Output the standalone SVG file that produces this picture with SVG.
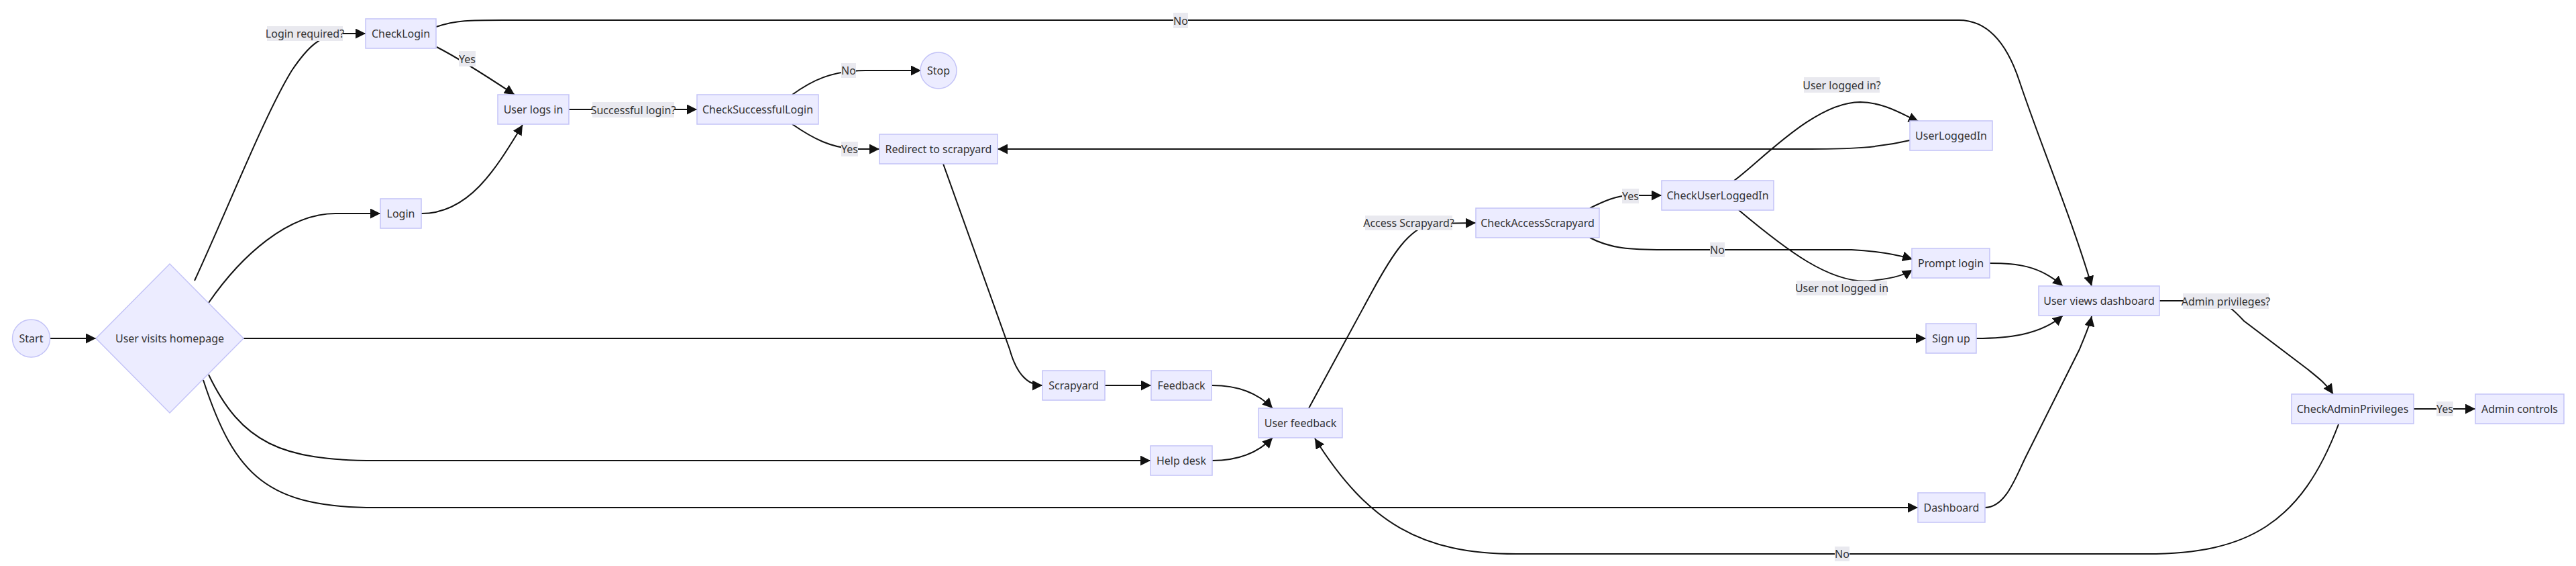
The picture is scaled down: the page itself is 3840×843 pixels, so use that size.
<svg xmlns="http://www.w3.org/2000/svg" width="3840" height="843" viewBox="0 0 3840 843">
<style>
  .node rect, .node polygon, .node circle { fill: #ECECFF; stroke: #c3c3f7; stroke-width: 1.5; }
  .node text, .lbl text { font-family: "Noto Sans", "Open Sans", sans-serif; font-size: 16px; fill: #333; text-anchor: middle; dominant-baseline: central; }
  .edge { fill: none; stroke: #111; stroke-width: 2; }
  .lbl rect { fill: #e9e9ef; }
</style>
<defs>
  <marker id="arr" viewBox="0 0 10 10" refX="10" refY="5" markerUnits="userSpaceOnUse" markerWidth="15" markerHeight="15" orient="auto">
    <path d="M0,0 L10,5 L0,10 z" fill="#111"/>
  </marker>
</defs>
<rect width="3840" height="843" fill="#fff"/>

<g id="connectors">
  <path class="edge" marker-end="url(#arr)" d="M74,504 L143,504"/>
  <path class="edge" marker-end="url(#arr)" d="M290,418 C340,310 395,170 435,105 C460,68 478,52 511,50 L545,50"/>
  <path class="edge" marker-end="url(#arr)" d="M311,451 C360,380 430,318 500,318 L567,318"/>
  <path class="edge" marker-end="url(#arr)" d="M628,318 C700,318 740,250 779,186"/>
  <path class="edge" marker-end="url(#arr)" d="M651,70 Q690,90 767,141"/>
  <path class="edge" marker-end="url(#arr)" d="M650,40 C680,30 700,30 750,30 L2920,30 C2960,30 2990,60 3010,120 C3040,210 3090,330 3118,426"/>
  <path class="edge" marker-end="url(#arr)" d="M848,163 L1039,163"/>
  <path class="edge" marker-end="url(#arr)" d="M1181,141 C1210,120 1240,105 1290,105 L1373,105"/>
  <path class="edge" marker-end="url(#arr)" d="M1181,185 C1210,205 1240,222 1280,222 L1311,222"/>
  <path class="edge" marker-end="url(#arr)" d="M1406,244 L1505,520 Q1520,574 1554,574"/>
  <path class="edge" marker-end="url(#arr)" d="M1647,574 L1716,574"/>
  <path class="edge" marker-end="url(#arr)" d="M1807,574 C1835,574 1870,580 1897,608"/>
  <path class="edge" marker-end="url(#arr)" d="M1807,686 C1835,686 1870,680 1897,652"/>
  <path class="edge" marker-end="url(#arr)" d="M311,558 C360,660 420,686 560,686 L1715,686"/>
  <path class="edge" marker-end="url(#arr)" d="M303,566 C350,710 400,756 560,756 L2859,756"/>
  <path class="edge" marker-end="url(#arr)" d="M363,504 L2871,504"/>
  <path class="edge" marker-end="url(#arr)" d="M1951,608 L2045,435 C2075,380 2100,340 2135,333 L2200,332"/>
  <path class="edge" marker-end="url(#arr)" d="M2370,310 C2390,300 2410,291 2430,291 L2477,291"/>
  <path class="edge" marker-end="url(#arr)" d="M2370,354 C2400,370 2430,372 2480,372 L2760,372 C2800,374 2830,380 2851,386"/>
  <path class="edge" marker-end="url(#arr)" d="M2585,269 C2625,240 2705,152 2773,152 C2810,153 2835,170 2860,181"/>
  <path class="edge" marker-end="url(#arr)" d="M2847,209 C2800,220 2760,222 2700,222 L1487,222"/>
  <path class="edge" marker-end="url(#arr)" d="M2592,313 C2660,370 2730,425 2790,418 C2815,415 2835,412 2851,402"/>
  <path class="edge" marker-end="url(#arr)" d="M2966,392 C3005,392 3040,395 3075,426"/>
  <path class="edge" marker-end="url(#arr)" d="M2946,504 C2990,504 3040,500 3075,470"/>
  <path class="edge" marker-end="url(#arr)" d="M2959,756 C2990,756 3005,710 3020,680 L3100,520 C3108,500 3115,485 3118,471"/>
  <path class="edge" marker-end="url(#arr)" d="M3219,448 L3300,448 C3320,452 3330,462 3345,478 L3440,550 C3455,562 3468,572 3478,587"/>
  <path class="edge" marker-end="url(#arr)" d="M3598,609 L3690,609"/>
  <path class="edge" marker-end="url(#arr)" d="M3486,632 C3430,780 3350,825 3200,825 L2260,825 C2120,825 2040,780 1960,653"/>
</g>

<g id="edge-labels">
  <g class="lbl"><rect x="398" y="39" width="113" height="22"/><text x="454.5" y="50">Login required?</text></g>
  <g class="lbl"><rect x="684" y="76" width="25" height="23"/><text x="696.5" y="87.5">Yes</text></g>
  <g class="lbl"><rect x="1749" y="19" width="22" height="23"/><text x="1760" y="30.5">No</text></g>
  <g class="lbl"><rect x="883" y="152" width="122" height="23"/><text x="944" y="163.5">Successful login?</text></g>
  <g class="lbl"><rect x="1254" y="94" width="22" height="22"/><text x="1265" y="105">No</text></g>
  <g class="lbl"><rect x="1254" y="211" width="25" height="22"/><text x="1266.5" y="222">Yes</text></g>
  <g class="lbl"><rect x="2035" y="321" width="130" height="22"/><text x="2100" y="332">Access Scrapyard?</text></g>
  <g class="lbl"><rect x="2418" y="281" width="25" height="22"/><text x="2430.5" y="292">Yes</text></g>
  <g class="lbl"><rect x="2549" y="361" width="22" height="22"/><text x="2560" y="372">No</text></g>
  <g class="lbl"><rect x="2689" y="115" width="113" height="23"/><text x="2745.5" y="126.5">User logged in?</text></g>
  <g class="lbl"><rect x="2678" y="418" width="135" height="22"/><text x="2745.5" y="429">User not logged in</text></g>
  <g class="lbl"><rect x="3254" y="437" width="128" height="23"/><text x="3318" y="448.5">Admin privileges?</text></g>
  <g class="lbl"><rect x="3632" y="598" width="25" height="22"/><text x="3644.5" y="609">Yes</text></g>
  <g class="lbl"><rect x="2735" y="814" width="22" height="22"/><text x="2746" y="825">No</text></g>
</g>

<g id="node-start" class="node"><circle cx="46.5" cy="504" r="28"/><text x="46.5" y="504">Start</text></g>
<g id="node-homepage" class="node"><polygon points="253,393 363,504 253,615 143,504"/><text x="253" y="504">User visits homepage</text></g>
<g id="node-checklogin" class="node"><rect x="545" y="28" width="105" height="44"/><text x="597.5" y="50">CheckLogin</text></g>
<g id="node-login" class="node"><rect x="567" y="296" width="61" height="44"/><text x="597.5" y="318">Login</text></g>
<g id="node-userlogsin" class="node"><rect x="742" y="141" width="106" height="44"/><text x="795" y="163">User logs in</text></g>
<g id="node-checksuccessfullogin" class="node"><rect x="1039" y="141" width="181" height="44"/><text x="1129.5" y="163">CheckSuccessfulLogin</text></g>
<g id="node-stop" class="node"><circle cx="1399" cy="105" r="27"/><text x="1399" y="105">Stop</text></g>
<g id="node-redirect" class="node"><rect x="1311" y="200" width="176" height="44"/><text x="1399" y="222">Redirect to scrapyard</text></g>
<g id="node-scrapyard" class="node"><rect x="1554" y="552" width="93" height="44"/><text x="1600.5" y="574">Scrapyard</text></g>
<g id="node-feedback" class="node"><rect x="1716" y="552" width="90" height="44"/><text x="1761" y="574">Feedback</text></g>
<g id="node-helpdesk" class="node"><rect x="1715" y="664" width="92" height="44"/><text x="1761" y="686">Help desk</text></g>
<g id="node-userfeedback" class="node"><rect x="1876" y="608" width="125" height="44"/><text x="1938.5" y="630">User feedback</text></g>
<g id="node-checkaccessscrapyard" class="node"><rect x="2200" y="310" width="184" height="44"/><text x="2292" y="332">CheckAccessScrapyard</text></g>
<g id="node-checkuserloggedin" class="node"><rect x="2477" y="269" width="167" height="44"/><text x="2560.5" y="291">CheckUserLoggedIn</text></g>
<g id="node-userloggedin" class="node"><rect x="2847" y="180" width="123" height="44"/><text x="2908.5" y="202">UserLoggedIn</text></g>
<g id="node-promptlogin" class="node"><rect x="2850" y="370" width="116" height="44"/><text x="2908" y="392">Prompt login</text></g>
<g id="node-signup" class="node"><rect x="2871" y="482" width="75" height="44"/><text x="2908.5" y="504">Sign up</text></g>
<g id="node-dashboard" class="node"><rect x="2859" y="734" width="100" height="44"/><text x="2909" y="756">Dashboard</text></g>
<g id="node-userviewsdashboard" class="node"><rect x="3039" y="426" width="180" height="44"/><text x="3129" y="448">User views dashboard</text></g>
<g id="node-checkadminprivileges" class="node"><rect x="3416" y="587" width="182" height="44"/><text x="3507" y="609">CheckAdminPrivileges</text></g>
<g id="node-admincontrols" class="node"><rect x="3690" y="587" width="132" height="44"/><text x="3756" y="609">Admin controls</text></g>
</svg>
